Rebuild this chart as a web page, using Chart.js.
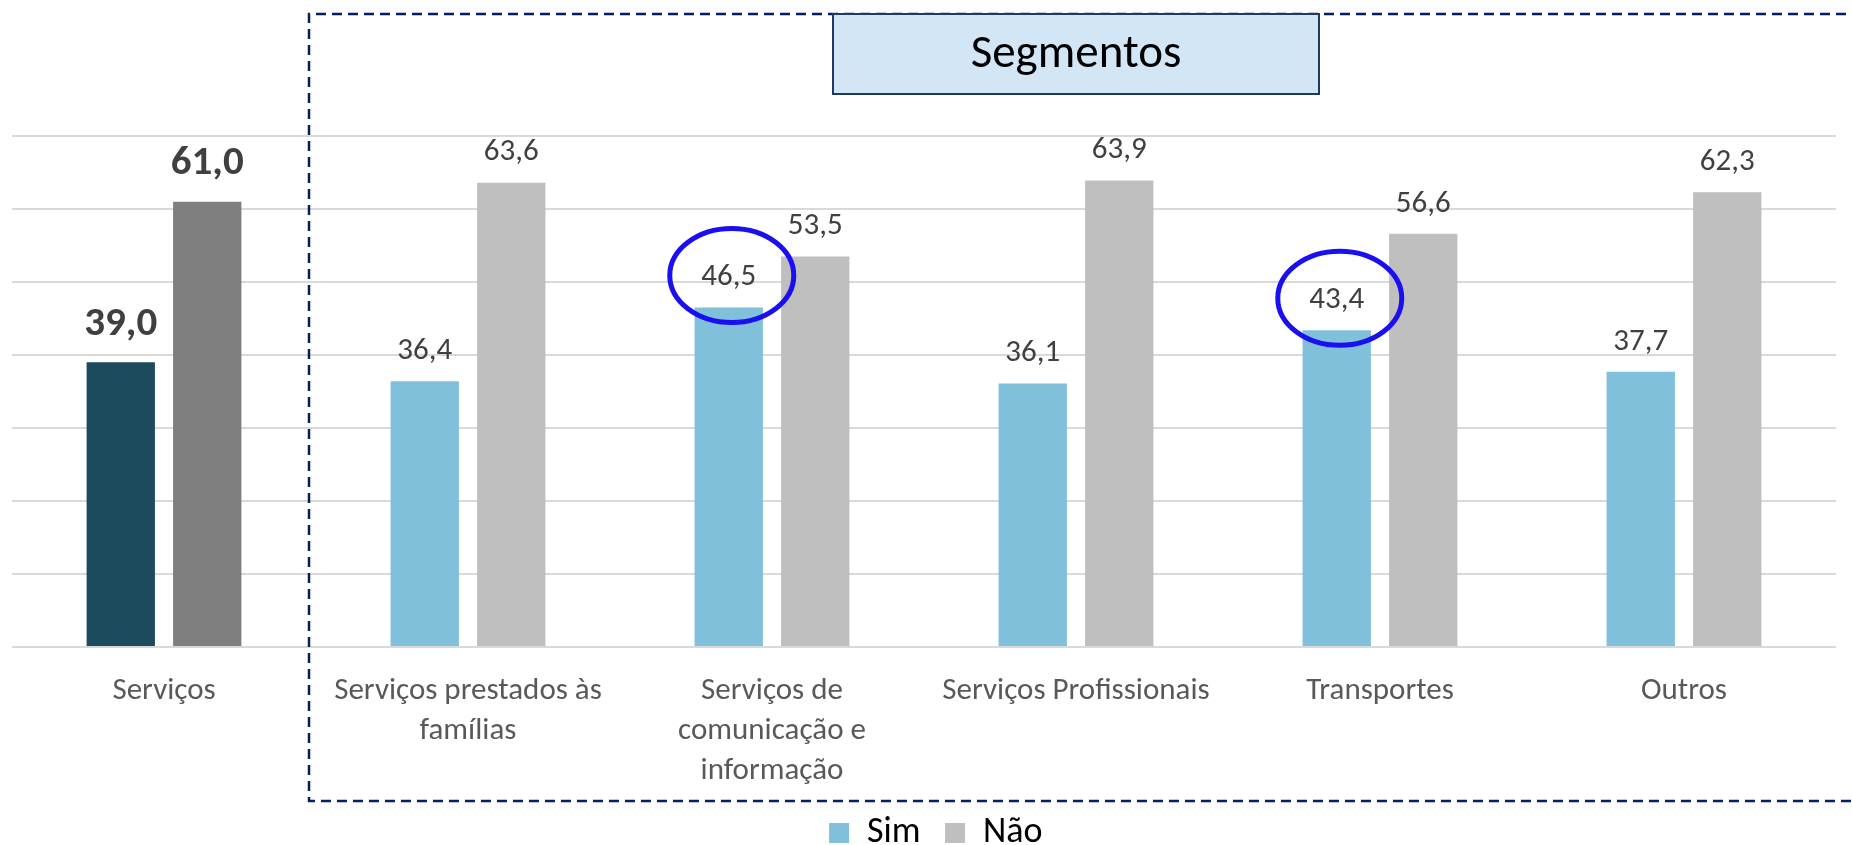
<!DOCTYPE html>
<html><head><meta charset="utf-8">
<script src="https://cdn.jsdelivr.net/npm/chart.js@4"></script>
<style>html,body{margin:0;padding:0;background:#fff}#wrap{width:1852px;height:845px}</style>
</head><body><div id="wrap"><canvas id="c" width="1852" height="845"></canvas></div>
<script>
const categories = ['Serviços', ['Serviços prestados às', 'famílias'], ['Serviços de', 'comunicação e', 'informação'], 'Serviços Profissionais', 'Transportes', 'Outros'];
const simValues = [39.0, 36.4, 46.5, 36.1, 43.4, 37.7];
const naoValues = [61.0, 63.6, 53.5, 63.9, 56.6, 62.3];
const seriesNames = ['Sim', 'Não'];
const yTickStep = 10;
const yMax = 70;
const highlightedSim = [2, 4];
const groupTitle = 'Segmentos';

const FONT = "Carlito, Lato, sans-serif";
const simColors = simValues.map((v, i) => i === 0 ? '#1D4B5E' : '#80C0DA');
const naoColors = naoValues.map((v, i) => i === 0 ? '#7F7F7F' : '#BFBFBF');

const fmt = v => v.toFixed(1).replace('.', ',');

const annot = {
  id: 'annot',
  afterLayout(chart) {
    if (chart.legend) { chart.legend.left += 24; chart.legend.right += 24; }
  },
  afterDraw(chart) {
    const ctx = chart.ctx;
    const xs = chart.scales.x;
    const ca = chart.chartArea;
    const b01 = (xs.getPixelForValue(0) + xs.getPixelForValue(1)) / 2 - 7;
    // dashed group frame
    ctx.save();
    ctx.strokeStyle = '#002060';
    ctx.lineWidth = 2.5;
    ctx.setLineDash([10, 6]);
    ctx.beginPath();
    ctx.moveTo(chart.width + 10, 14);
    ctx.lineTo(b01, 14);
    ctx.lineTo(b01, 801);
    ctx.lineTo(chart.width + 10, 801);
    ctx.stroke();
    ctx.restore();
    // title box
    const cx = (b01 + 7 + ca.right) / 2;
    const bw = 486, bh = 80;
    ctx.save();
    ctx.fillStyle = '#D2E6F5';
    ctx.fillRect(cx - bw / 2, 14, bw, bh);
    ctx.strokeStyle = '#1F3864';
    ctx.lineWidth = 2;
    ctx.strokeRect(cx - bw / 2, 14, bw, bh);
    ctx.fillStyle = '#000';
    ctx.font = '47px ' + FONT;
    ctx.textAlign = 'center';
    ctx.textBaseline = 'middle';
    ctx.fillText(groupTitle, cx, 14 + bh / 2 + 1);
    ctx.restore();
    // value labels
    ctx.save();
    ctx.textAlign = 'center';
    ctx.textBaseline = 'middle';
    chart.data.datasets.forEach((ds, d) => {
      const meta = chart.getDatasetMeta(d);
      meta.data.forEach((bar, i) => {
        ctx.fillStyle = '#404040';
        if (i === 0) {
          ctx.font = 'bold 41px ' + FONT;
          ctx.fillText(fmt(ds.data[i]), bar.x, bar.y - 38);
        } else {
          ctx.font = '31px ' + FONT;
          ctx.fillText(fmt(ds.data[i]), bar.x, bar.y - 30);
        }
      });
    });
    // highlight ellipses
    const simMeta = chart.getDatasetMeta(0);
    ctx.strokeStyle = '#1A0FF0';
    ctx.lineWidth = 5;
    highlightedSim.forEach(i => {
      const bar = simMeta.data[i];
      ctx.beginPath();
      ctx.ellipse(bar.x + 3, bar.y - 32, 62, 47, 0, 0, Math.PI * 2);
      ctx.stroke();
    });
    ctx.restore();
  }
};

new Chart(document.getElementById('c'), {
  type: 'bar',
  data: {
    labels: categories,
    datasets: [
      { label: seriesNames[0], data: simValues, backgroundColor: simColors, borderWidth: 0 },
      { label: seriesNames[1], data: naoValues, backgroundColor: naoColors, borderWidth: 0 }
    ]
  },
  options: {
    responsive: false,
    animation: false,
    devicePixelRatio: 1,
    datasets: { bar: { categoryPercentage: 0.569, barPercentage: 0.79 } },
    layout: { padding: { left: 12, right: 16, top: 136, bottom: -16 } },
    scales: {
      x: {
        grid: { display: false, drawTicks: false },
        border: { display: false },
        ticks: { color: '#595959', font: { family: FONT, size: 31, lineHeight: 1.3 }, padding: 23.5, maxRotation: 0, autoSkip: false }
      },
      y: {
        min: 0, max: yMax,
        ticks: { display: false, stepSize: yTickStep },
        grid: { color: '#D9D9D9', lineWidth: 2, drawTicks: false },
        border: { display: false }
      }
    },
    plugins: {
      tooltip: { enabled: false },
      legend: {
        position: 'bottom',
        labels: {
          color: '#595959',
          font: { family: FONT, size: 36 },
          boxWidth: 20, boxHeight: 20, padding: 0,
          generateLabels(chart) {
            return chart.data.datasets.map((ds, i) => ({
              text: ds.label + '   ',
              fillStyle: i === 0 ? '#80C0DA' : '#BFBFBF',
              strokeStyle: 'transparent', lineWidth: 0,
              datasetIndex: i, hidden: false
            }));
          }
        }
      }
    }
  },
  plugins: [annot]
});
</script>
</body></html>
